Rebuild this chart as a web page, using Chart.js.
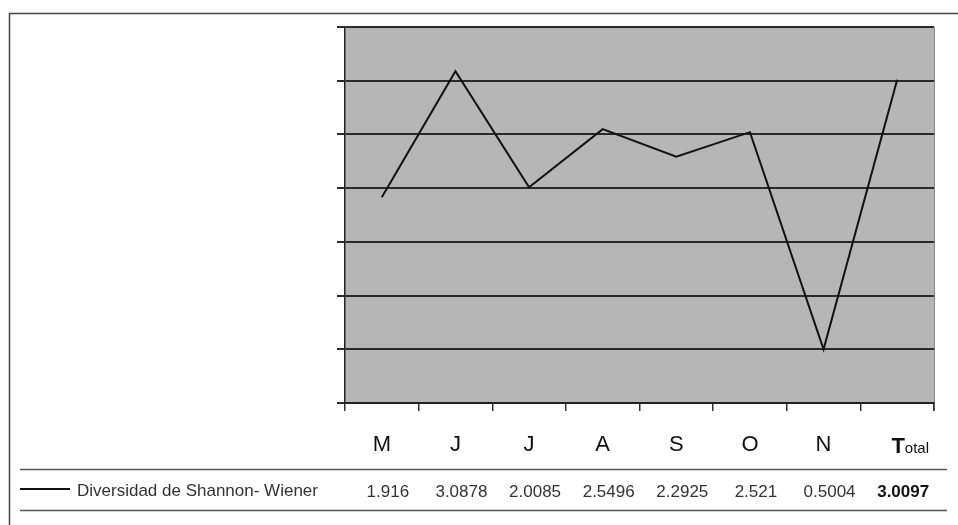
<!DOCTYPE html>
<html>
<head>
<meta charset="utf-8">
<script src="https://cdn.jsdelivr.net/npm/chart.js@4.4.0/dist/chart.umd.min.js"></script>
<style>
  html, body { margin: 0; padding: 0; background: #fff; }
  #wrap { width: 958px; height: 525px; }
</style>
</head>
<body>
<div id="wrap"><canvas id="line" width="958" height="525"></canvas></div>
<script>
var months = ['M', 'J', 'J', 'A', 'S', 'O', 'N', 'Total'];
var shannon = [1.916, 3.0878, 2.0085, 2.5496, 2.2925, 2.521, 0.5004, 3.0097];
var seriesName = 'Diversidad de Shannon- Wiener';
var yTicks = [0, 0.5, 1, 1.5, 2, 2.5, 3, 3.5];

var fontFamily = '"Liberation Sans", Arial, sans-serif';

// gray plot background, outer frame and the data table underneath
var decor = {
    id: 'decor',
    beforeDraw: function (chart) {
        var a = chart.chartArea, c = chart.ctx;
        c.save();
        c.fillStyle = '#b6b6b6';
        c.fillRect(a.left, a.top, a.right - a.left, a.bottom - a.top);
        c.strokeStyle = '#8a8a8a';
        c.lineWidth = 1;
        c.beginPath();
        c.moveTo(a.right + 0.5, a.top);
        c.lineTo(a.right + 0.5, a.bottom + 8);
        c.stroke();
        c.restore();
    },
    afterDraw: function (chart) {
        var c = chart.ctx, x = chart.scales.x;
        c.save();
        // frame
        c.strokeStyle = '#444';
        c.lineWidth = 1.5;
        c.strokeRect(9.5, 13.5, 970, 530);

        // "Total" label: big T, small rest
        var tx = x.getPixelForValue(months.length - 1) + 1;
        c.fillStyle = '#111';
        c.textBaseline = 'alphabetic';
        c.font = 'bold 22px ' + fontFamily;
        var wT = c.measureText('T').width;
        c.font = '15px ' + fontFamily;
        var wRest = c.measureText('otal').width;
        var start = tx - (wT + wRest) / 2 + 12;
        c.textAlign = 'left';
        c.font = 'bold 22px ' + fontFamily;
        c.fillText('T', start, 453);
        c.font = '15px ' + fontFamily;
        c.fillText('otal', start + wT, 453);

        // table lines
        c.strokeStyle = '#555';
        c.lineWidth = 1.5;
        c.beginPath();
        c.moveTo(20, 469.5); c.lineTo(947, 469.5);
        c.moveTo(20, 510.5); c.lineTo(947, 510.5);
        c.stroke();

        // legend key
        c.strokeStyle = '#111';
        c.lineWidth = 2;
        c.beginPath();
        c.moveTo(20, 489); c.lineTo(70, 489);
        c.stroke();

        c.fillStyle = '#333';
        c.textBaseline = 'middle';
        c.textAlign = 'left';
        c.font = '17px ' + fontFamily;
        c.fillText(seriesName, 77, 491);

        c.textAlign = 'center';
        shannon.forEach(function (v, i) {
            var last = i === shannon.length - 1;
            c.font = (last ? 'bold ' : '') + '17px ' + fontFamily;
            c.fillStyle = last ? '#111' : '#333';
            c.fillText(String(v), x.getPixelForValue(i) + 6, 492);
        });
        c.restore();
    }
};

var ctx = document.getElementById('line').getContext('2d');
var myChart = new Chart(ctx, {
    type: 'line',
    data: {
        labels: months,
        datasets: [{
            label: seriesName,
            data: shannon,
            borderColor: '#111',
            borderWidth: 2,
            pointRadius: 0,
            fill: false,
            tension: 0
        }]
    },
    options: {
        responsive: false,
        animation: false,
        events: [],
        layout: { padding: { left: 337, top: 27, right: 24, bottom: 0 } },
        plugins: {
            legend: { display: false },
            tooltip: { enabled: false }
        },
        scales: {
            x: {
                offset: true,
                grid: {
                    offset: true,
                    drawOnChartArea: false,
                    drawTicks: true,
                    tickLength: 8,
                    color: '#333',
                    lineWidth: 1.5
                },
                border: { display: true, color: '#222', width: 2 },
                ticks: {
                    color: '#111',
                    font: { size: 22, family: fontFamily },
                    padding: 21,
                    maxRotation: 0,
                    autoSkip: false,
                    callback: function (val, i) {
                        return i === months.length - 1 ? '' : months[i];
                    }
                },
                afterFit: function (s) { s.height = 122; }
            },
            y: {
                min: yTicks[0],
                max: yTicks[yTicks.length - 1],
                afterBuildTicks: function (s) {
                    s.ticks = yTicks.map(function (v) { return { value: v }; });
                },
                grid: {
                    color: '#2a2a2a',
                    lineWidth: 2,
                    drawTicks: true,
                    tickLength: 8
                },
                border: { display: true, color: '#222', width: 1.5 },
                ticks: { display: false },
                afterFit: function (s) { s.width = 8; }
            }
        }
    },
    plugins: [decor]
});
</script>
</body>
</html>
